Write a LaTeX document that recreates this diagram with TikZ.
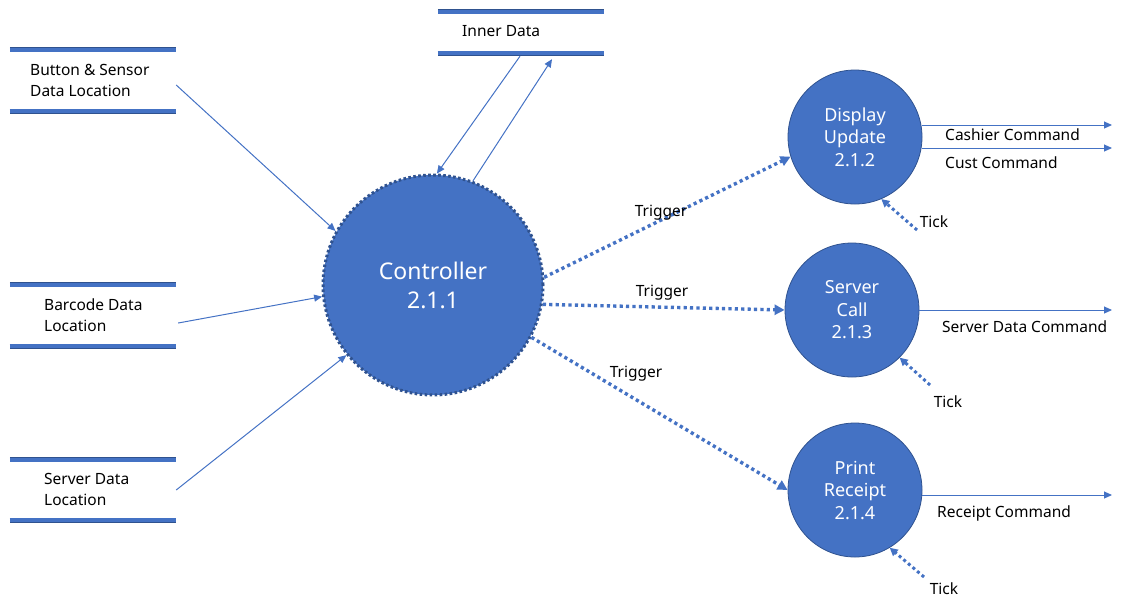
\documentclass[tikz,border=0pt]{standalone}
\usepackage{fontspec}
\setmainfont{Noto Sans}
\usetikzlibrary{arrows.meta, calc}
\definecolor{flowBlue}{RGB}{68, 114, 196}
\definecolor{edgeBlue}{RGB}{47, 82, 143}

\begin{document}
\begin{tikzpicture} [
        x=1pt, y=-1pt,
        proc/.style={circle, fill=flowBlue, draw=edgeBlue, line width=0.8pt, minimum size=134pt,
            inner sep=0pt, text=white, align=center, font=\fontsize{18}{22.5}\selectfont},
        ctrlproc/.style={proc, minimum size=220pt, line width=3pt, dash pattern=on 2.6pt off 2.4pt,
            font=\fontsize{23}{29}\selectfont},
        frame/.style={minimum width=166pt, minimum height=61pt, inner sep=0pt},
        bar/.style={draw=edgeBlue, double=flowBlue, double distance=3.6pt, line width=0.6pt},
        lbl/.style={font=\fontsize{15.5}{21}\selectfont, align=left, inner sep=0pt},
        flow/.style={draw=flowBlue, line width=1pt, -{Triangle[length=8pt, width=7pt]}},
        trig/.style={draw=flowBlue, line width=3.4pt, dash pattern=on 3.2pt off 3.2pt,
            -{Triangle[length=10pt, width=10pt]}},
        tick/.style={draw=flowBlue, line width=3pt, dash pattern=on 3pt off 3pt,
            -{Triangle[length=8pt, width=8pt]}}
    ]
        \useasboundingbox (0, 0) rectangle (1123, 598);

        % data stores
        \node[frame] (btn) at (93, 80.5) {};
        \node[frame] (bcode) at (93, 315.5) {};
        \node[frame, minimum height=60pt] (srvd) at (93, 490) {};
        \node[frame, minimum height=41pt] (inner) at (521, 32.5) {};
        \foreach \s in {btn, bcode, srvd, inner} {
            \draw[bar] (\s.north west) -- (\s.north east);
            \draw[bar] (\s.south west) -- (\s.south east);
        }
        \node[lbl, anchor=west] (btnTxt) at (30, 80.5) {Button \& Sensor\\Data Location};
        \node[lbl, anchor=west] (bcodeTxt) at (44, 315) {Barcode Data\\Location};
        \node[lbl, anchor=west] (srvdTxt) at (44, 489.5) {Server Data\\Location};
        \node[lbl, anchor=west] (innerTxt) at (462, 31) {Inner Data};

        % processes
        \node[ctrlproc] (ctrl) at (433, 285) {Controller\\2.1.1};
        \node[proc] (disp) at (855, 137) {Display\\Update\\2.1.2};
        \node[proc] (call) at (852, 310) {Server\\Call\\2.1.3};
        \node[proc] (prnt) at (855, 490) {Print\\Receipt\\2.1.4};

        % inputs to the controller
        \draw[flow] ($ (btn.east) + (0, 4.5) $) -- (ctrl.151);
        \draw[flow] ($ (bcode.east) + (2, 7.5) $) -- (ctrl.186);
        \draw[flow] (srvd.east) -- (ctrl.219);
        \draw[flow] ($ (inner.south) + (-1, 3) $) -- (ctrl.88);
        \draw[flow] (ctrl.69) -- ($ (inner.south) + (31, 6) $);

        % triggers
        \draw[trig] (ctrl.4) -- (disp.197);
        \draw[trig] (ctrl.350) -- (call.west);
        \draw[trig] (ctrl.332) -- (prnt.west);
        \node[lbl] (trgA) at (661, 213) {Trigger};
        \node[lbl] (trgB) at (662, 293) {Trigger};
        \node[lbl] (trgC) at (636, 374) {Trigger};

        % outputs
        \coordinate (cashEnd) at (1112, 125);
        \coordinate (custEnd) at (1112, 148);
        \coordinate (srvEnd) at (1112, 310);
        \coordinate (rcptEnd) at (1112, 495);
        \draw[flow] (disp.east |- cashEnd) -- (cashEnd);
        \draw[flow] (disp.east |- custEnd) -- (custEnd);
        \draw[flow] (call.east) -- (srvEnd);
        \draw[flow] (prnt.east |- rcptEnd) -- (rcptEnd);
        \node[lbl, anchor=west] (cashTxt) at (945, 135) {Cashier Command};
        \node[lbl, anchor=west] (custTxt) at (945, 163) {Cust Command};
        \node[lbl, anchor=west] (srvTxt) at (942, 327) {Server Data Command};
        \node[lbl, anchor=west] (rcptTxt) at (937, 513) {Receipt Command};

        % ticks
        \coordinate (tickA) at (917, 230);
        \coordinate (tickB) at (930, 385);
        \coordinate (tickC) at (924, 577);
        \draw[tick] (tickA) -- (disp.293);
        \draw[tick] (tickB) -- (call.315);
        \draw[tick] (tickC) -- (prnt.301);
        \node[lbl] (tickTxtA) at (934, 222) {Tick};
        \node[lbl] (tickTxtB) at (948, 402) {Tick};
        \node[lbl] (tickTxtC) at (944, 589) {Tick};
    \end{tikzpicture}
\end{document}
